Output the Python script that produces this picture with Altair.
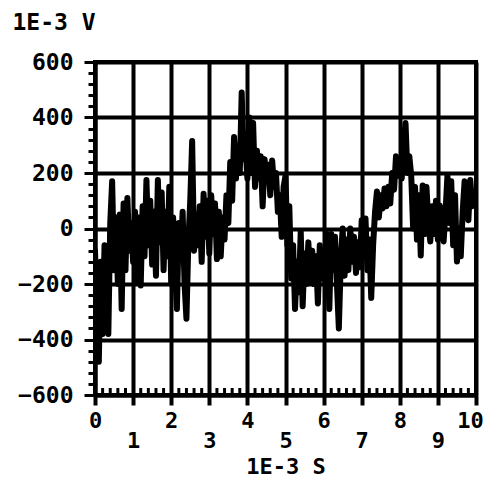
import altair as alt
import pandas as pd

# signal in 1E-3 V, sampled every 0.05 (1E-3 s)
signal_mv = [
    -80, -300, -480, -120, -380, -60, -250, -380, 20, 170,
    -150, 40, -200, 50, -290, 90, -150, 110, -80, 20,
    -120, 60, -190, 40, -205, 80, -100, 175, -60, 100,
    -130, 60, -170, 175, -50, 130, -150, 60, -100, 150,
    -200, 40, -150, -290, 20, -100, 60, -200, -325, -50,
    100, 315, -80, 50, -60, 80, -120, 125, -30, 100,
    -90, 120, -20, 90, -110, 60, -100, 40, -40, 120,
    20, 240, 100, 330, 180, 300, 200, 490, 250, 300,
    180, 400, 200, 380, 150, 280, 180, 260, 80, 250,
    170, 230, 120, 245, 150, 200, 60, 120, -30, 150,
    190, -60, 80, -180, -60, -290, -120, -230, -10, -280,
    -90, -200, -50, -190, -80, -200, -100, -270, -60, -180,
    -90, -200, -20, -290, -20, -150, -30, -200, -360, -120,
    0, -170, -40, -150, 0, -120, -30, -160, -50, -140,
    30, -100, 36, -150, -40, -250, -60, 60, 133, 40,
    120, 72, 144, 80, 150, 90, 200, 140, 260, 190,
    250, 180, 300, 380, 200, 260, 190, 0, 150, -40,
    120, -97, 155, -20, 150, 20, -47, 80, -20, 100,
    -40, 83, -10, -47, 60, 190, 20, 170, -60, 120,
    -119, 0, -100, 60, 170, 140, 30, 175, 80, 120,
]
dt_ms = 0.05
t_ms = [round(i * dt_ms, 2) for i in range(len(signal_mv))]

x_major = list(range(0, 11))
x_minor = [round(i * 0.2, 1) for i in range(51) if i % 5 != 0]
y_ticks = list(range(-600, 601, 40))

df = pd.DataFrame({"t": t_ms, "v": signal_mv})
minor_df = pd.DataFrame({"t": x_minor})

FONT = "DejaVu Sans Mono"
FS = 23
FSX = 22
W, H = 381, 333

x_scale = alt.Scale(domain=[0, 10], nice=False, zero=False)
y_scale = alt.Scale(domain=[-600, 600], nice=False, zero=False)

x_axis = alt.Axis(
    values=x_major,
    title="1E-3 S",
    grid=True, gridColor="black", gridWidth=4,
    domainColor="black", domainWidth=4,
    tickColor="black", tickWidth=4, tickSize=10,
    labelFont=FONT, labelFontSize=FSX, labelFontWeight="bold", labelColor="black",
    labelFlush=False, labelOverlap=False, labelBound=False,
    labelPadding={"condition": {"test": "datum.value % 2 == 1", "value": 25}, "value": 5},
    labelOffset={"condition": {"test": "datum.value == 10", "value": -6}, "value": 0},
    titleFont=FONT, titleFontSize=FSX, titleFontWeight="bold", titleColor="black",
    titleBaseline="top", titleY=61,
)

y_axis = alt.Axis(
    values=y_ticks,
    title="1E-3 V",
    grid=True, gridColor="black", gridWidth=4,
    gridOpacity={"condition": {"test": "datum.value % 200 == 0", "value": 1}, "value": 0},
    domainColor="black", domainWidth=4,
    tickColor="black", tickWidth=3,
    tickSize={"condition": {"test": "datum.value % 200 == 0", "value": 11}, "value": 7},
    labelExpr="datum.value % 200 == 0 ? datum.label : ''",
    labelFont=FONT, labelFontSize=FS, labelFontWeight="bold", labelColor="black",
    labelFlush=False, labelOverlap=False, labelBound=False, labelPadding=11,
    titleFont=FONT, titleFontSize=FS, titleFontWeight="bold", titleColor="black",
    titleAngle=0, titleAlign="left", titleBaseline="top", titleX=-83, titleY=-51,
)

line = alt.Chart(df).mark_line(
    color="black", strokeWidth=6, strokeJoin="round", strokeCap="round", clip=True
).encode(
    x=alt.X("t:Q", scale=x_scale, axis=x_axis),
    y=alt.Y("v:Q", scale=y_scale, axis=y_axis),
)

minor = alt.Chart(minor_df).mark_rule(color="black", strokeWidth=3).encode(
    x=alt.X("t:Q", scale=x_scale, axis=x_axis),
    y=alt.value(H),
    y2=alt.value(H - 7),
)

chart = alt.layer(line, minor).properties(
    width=W, height=H,
    autosize=alt.AutoSizeParams(type="none"),
    padding={"left": 87, "top": 54, "right": 9, "bottom": 84},
    background="white",
).configure_view(stroke="black", strokeWidth=4)

chart.save("out.html", embed_options={"renderer": "svg", "actions": False})
